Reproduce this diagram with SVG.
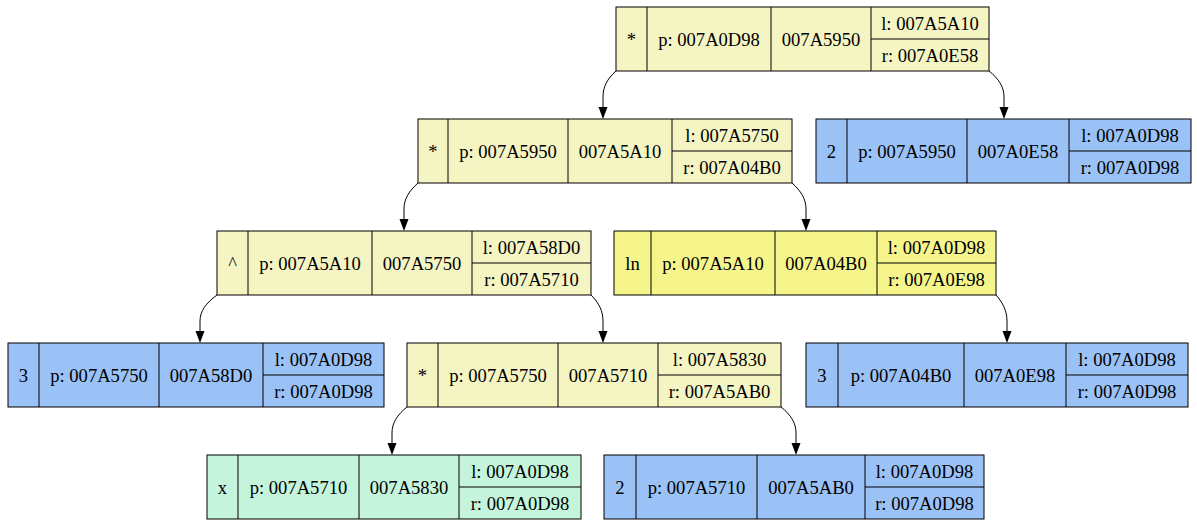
<svg xmlns="http://www.w3.org/2000/svg" width="1197" height="525" viewBox="0 0 1197 525">
<defs>
<style>
.box{stroke:#000;stroke-width:1}
.ly{fill:#f5f5c4}
.yy{fill:#f5f58c}
.bl{fill:#9bc2f6}
.gr{fill:#c4f5dc}
.ln{stroke:#000;stroke-width:1;fill:none}
text{font-family:"Liberation Serif","Times New Roman",serif;font-size:18.6px;fill:#000;text-anchor:middle}
.e{stroke:#000;stroke-width:1;fill:none;marker-end:url(#arr)}
</style>
<marker id="arr" markerUnits="userSpaceOnUse" markerWidth="13" markerHeight="10" refX="0" refY="4.5" orient="auto">
<path d="M0,0 L12,4.5 L0,9 z" fill="#000"/>
</marker>
</defs>
<rect width="1197" height="525" fill="#fff"/>
<g id="connectors">
<path class="e" d="M616,71 C607,79 603,87 603,97 L603,107"/>
<path class="e" d="M989,71 C999,79 1004,87 1004,97 L1004,107"/>
<path class="e" d="M418,183 C409,191 404,199 404,209 L404,219"/>
<path class="e" d="M792,183 C801,191 806,199 806,209 L806,219"/>
<path class="e" d="M217,295 C206,303 200,311 200,321 L200,331"/>
<path class="e" d="M591,295 C599,303 603,311 603,321 L603,331"/>
<path class="e" d="M996,295 C1003,303 1007,311 1007,321 L1007,331"/>
<path class="e" d="M407,407 C397,415 392,423 392,433 L392,443"/>
<path class="e" d="M781,407 C791,415 796,423 796,433 L796,443"/>
</g>
<g id="nodeA">
<rect class="box ly" x="616" y="7" width="373" height="64"/>
<path class="ln" d="M647,7V71M771,7V71M871,7V71M871,39H989"/>
<text x="631.5" y="45.5">*</text>
<text x="709" y="45.5">p: 007A0D98</text>
<text x="821" y="45.5">007A5950</text>
<text x="930" y="29.5">l: 007A5A10</text>
<text x="930" y="61.5">r: 007A0E58</text>
</g>
<g id="nodeB">
<rect class="box ly" x="418" y="119" width="374" height="64"/>
<path class="ln" d="M448,119V183M568,119V183M672,119V183M672,151H792"/>
<text x="433" y="157.5">*</text>
<text x="508" y="157.5">p: 007A5950</text>
<text x="620" y="157.5">007A5A10</text>
<text x="732" y="141.5">l: 007A5750</text>
<text x="732" y="173.5">r: 007A04B0</text>
</g>
<g id="nodeC">
<rect class="box bl" x="816" y="119" width="375" height="64"/>
<path class="ln" d="M847,119V183M967,119V183M1069,119V183M1069,151H1191"/>
<text x="831.5" y="157.5">2</text>
<text x="907" y="157.5">p: 007A5950</text>
<text x="1018" y="157.5">007A0E58</text>
<text x="1130" y="141.5">l: 007A0D98</text>
<text x="1130" y="173.5">r: 007A0D98</text>
</g>
<g id="nodeD">
<rect class="box ly" x="217" y="231" width="374" height="64"/>
<path class="ln" d="M248,231V295M372,231V295M472,231V295M472,263H591"/>
<text x="232.5" y="269.5">^</text>
<text x="310" y="269.5">p: 007A5A10</text>
<text x="422" y="269.5">007A5750</text>
<text x="531.5" y="253.5">l: 007A58D0</text>
<text x="531.5" y="285.5">r: 007A5710</text>
</g>
<g id="nodeE">
<rect class="box yy" x="614" y="231" width="382" height="64"/>
<path class="ln" d="M651,231V295M775,231V295M877,231V295M877,263H996"/>
<text x="632.5" y="269.5">ln</text>
<text x="713" y="269.5">p: 007A5A10</text>
<text x="826" y="269.5">007A04B0</text>
<text x="936.5" y="253.5">l: 007A0D98</text>
<text x="936.5" y="285.5">r: 007A0E98</text>
</g>
<g id="nodeF">
<rect class="box bl" x="8" y="343" width="376" height="64"/>
<path class="ln" d="M39,343V407M159,343V407M263,343V407M263,375H384"/>
<text x="23.5" y="381.5">3</text>
<text x="99" y="381.5">p: 007A5750</text>
<text x="211" y="381.5">007A58D0</text>
<text x="323.5" y="365.5">l: 007A0D98</text>
<text x="323.5" y="397.5">r: 007A0D98</text>
</g>
<g id="nodeG">
<rect class="box ly" x="407" y="343" width="374" height="64"/>
<path class="ln" d="M438,343V407M558,343V407M658,343V407M658,375H781"/>
<text x="422.5" y="381.5">*</text>
<text x="498" y="381.5">p: 007A5750</text>
<text x="608" y="381.5">007A5710</text>
<text x="719.5" y="365.5">l: 007A5830</text>
<text x="719.5" y="397.5">r: 007A5AB0</text>
</g>
<g id="nodeH">
<rect class="box bl" x="806" y="343" width="382" height="64"/>
<path class="ln" d="M838,343V407M964,343V407M1066,343V407M1066,375H1188"/>
<text x="822" y="381.5">3</text>
<text x="901" y="381.5">p: 007A04B0</text>
<text x="1015" y="381.5">007A0E98</text>
<text x="1127" y="365.5">l: 007A0D98</text>
<text x="1127" y="397.5">r: 007A0D98</text>
</g>
<g id="nodeI">
<rect class="box gr" x="207" y="455" width="374" height="64"/>
<path class="ln" d="M238,455V519M359,455V519M459,455V519M459,487H581"/>
<text x="222.5" y="493.5">x</text>
<text x="298.5" y="493.5">p: 007A5710</text>
<text x="409" y="493.5">007A5830</text>
<text x="520" y="477.5">l: 007A0D98</text>
<text x="520" y="509.5">r: 007A0D98</text>
</g>
<g id="nodeJ">
<rect class="box bl" x="604" y="455" width="380" height="64"/>
<path class="ln" d="M636,455V519M757,455V519M865,455V519M865,487H984"/>
<text x="620" y="493.5">2</text>
<text x="696.5" y="493.5">p: 007A5710</text>
<text x="811" y="493.5">007A5AB0</text>
<text x="924.5" y="477.5">l: 007A0D98</text>
<text x="924.5" y="509.5">r: 007A0D98</text>
</g>
</svg>
